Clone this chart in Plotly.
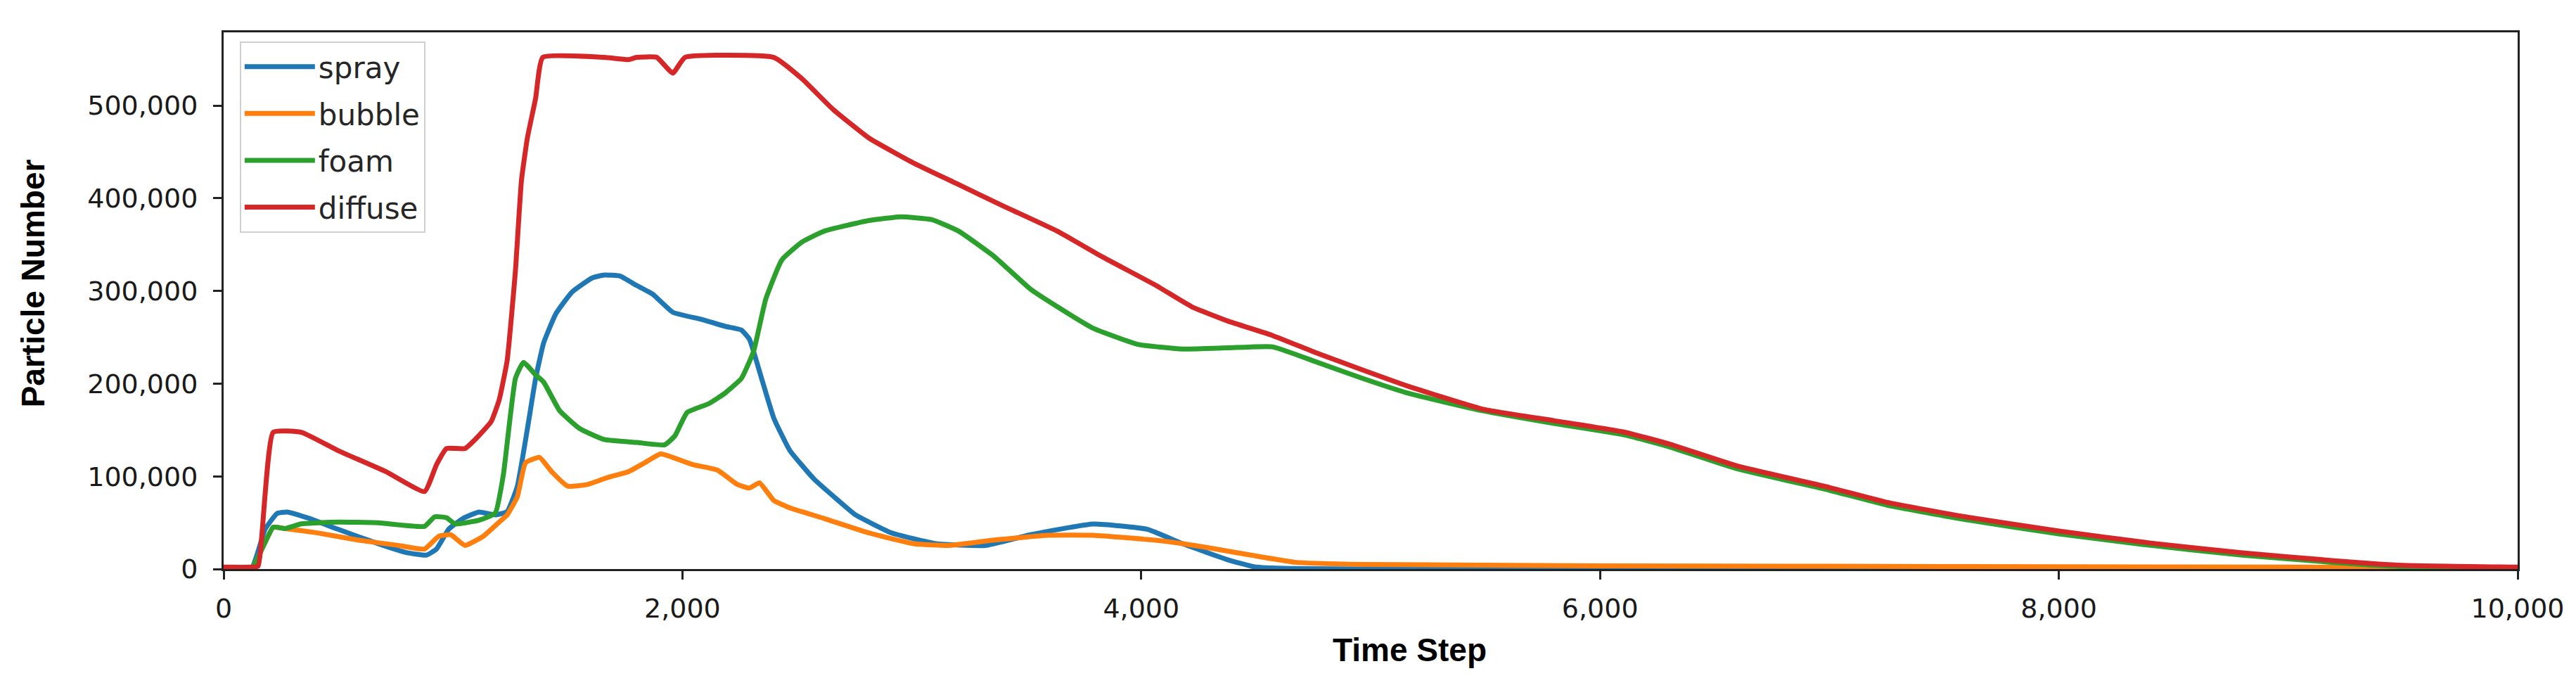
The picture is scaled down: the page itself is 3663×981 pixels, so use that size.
import plotly.graph_objects as go

# ---- data (values in particles; time in steps) ----
spray_t = [0, 120, 181, 233, 277, 374, 497, 673, 797, 884, 928, 981, 1043, 1113, 1184, 1236, 1280, 1324,
           1360, 1395, 1448, 1518, 1606, 1659, 1729, 1800, 1870, 1958, 2081, 2187, 2256, 2292, 2345, 2398,
           2468, 2574, 2679, 2754, 2911, 3106, 3320, 3517, 3791, 4025, 4181, 4377, 4494, 4650, 5000, 6000,
           8000, 10000]
spray_k = [0, 0, 43, 60, 61.5, 54.5, 43, 27.4, 17.7, 15, 21.6, 43, 54.5, 61.5, 58.4, 62, 89, 151,
           205.6, 244, 275.3, 298.6, 314, 317.2, 316, 306, 296.6, 277, 269.5, 261.8, 258, 248, 205.6, 163,
           128, 97, 74, 58.5, 39, 27.3, 25.5, 37, 48.6, 42.9, 27.3, 10, 2.3, 0.5, 0, 0,
           0, 0]

bubble_t = [0, 120, 216, 268, 409, 585, 761, 876, 937, 990, 1052, 1131, 1201, 1236, 1280, 1316, 1377,
            1430, 1500, 1588, 1676, 1764, 1835, 1905, 1958, 2046, 2152, 2239, 2292, 2336, 2398, 2468,
            2617, 2813, 3008, 3164, 3360, 3595, 3790, 4083, 4279, 4474, 4670, 4963, 6000, 7000, 8000,
            9000, 10000]
bubble_k = [0, 0, 45, 43.7, 39, 31.3, 25.5, 21.6, 35.2, 37, 25.5, 35.2, 50.6, 58.4, 77.8, 114.6, 120.4,
            105, 89.4, 91.3, 99, 105, 114.6, 124.3, 120.4, 112.6, 106.8, 91.3, 87.4, 93, 74, 66,
            54.6, 39, 27.3, 25.5, 31.3, 36.4, 36.4, 30.5, 23.5, 15.2, 7.3, 5, 3.5, 3, 2.5,
            2, 1.5]

foam_t = [0, 120, 216, 268, 339, 497, 673, 876, 920, 972, 1008, 1113, 1184, 1219, 1272, 1307, 1360,
          1395, 1465, 1553, 1659, 1800, 1923, 1967, 2020, 2116, 2187, 2257, 2310, 2363, 2433, 2521,
          2617, 2813, 2950, 3086, 3204, 3360, 3517, 3634, 3790, 3985, 4181, 4377, 4572, 4768, 4963,
          5159, 5487, 5800, 6100, 6300, 6600, 7000, 7250, 7600, 8000, 8400, 8800, 9200, 9500, 10000]
foam_k = [0, 0, 45, 43.7, 48.7, 50.6, 49.9, 46, 56.4, 55.3, 48.7, 52.6, 60.3, 101, 205.6, 223, 209.5,
          201.7, 170.7, 151.4, 139.7, 136.6, 134, 143.6, 168.8, 178.5, 190, 205.6, 234.7, 291, 333.4, 352.8,
          364.5, 376, 380, 377, 364.5, 337, 302, 283, 259.8, 242.4, 237.4, 238.6, 239.7, 223, 205.8,
          190, 170.8, 157, 145, 132, 108, 85, 69, 53, 38, 25.5, 15, 7, 2.5, 0.5]

diffuse_t = [0, 120, 150, 216, 339, 497, 708, 876, 928, 972, 1052, 1096, 1166, 1201, 1236, 1272, 1298,
             1324, 1360, 1391, 1659, 1764, 1800, 1888, 1958, 2011, 2398, 2521, 2656, 2813, 3008, 3204,
             3400, 3634, 3829, 4064, 4220, 4377, 4572, 4768, 4963, 5159, 5487, 5800, 6100, 6300, 6600,
             7000, 7250, 7600, 8000, 8400, 8800, 9200, 9500, 10000]
diffuse_k = [2, 2, 3, 147.5, 147.5, 128, 105, 83.6, 112.6, 130, 130, 139.7, 159, 182.4, 225, 322, 418.7,
             465, 507.8, 552, 552, 549.6, 552, 552, 535, 552, 552, 529, 496, 465, 438, 414.8,
             391.5, 364.5, 337, 306, 283, 267.6, 252, 232.7, 215, 197.6, 172.6, 160, 148, 135, 111,
             88, 72, 56, 41, 28, 17.5, 9, 4, 2]

series_names = ["spray", "bubble", "foam", "diffuse"]
series_colors = ["#1f77b4", "#ff7f0e", "#2ca02c", "#d62728"]
series_data = [(spray_t, spray_k), (bubble_t, bubble_k), (foam_t, foam_k), (diffuse_t, diffuse_k)]

x_ticks = [0, 2000, 4000, 6000, 8000, 10000]
y_ticks = [0, 100000, 200000, 300000, 400000, 500000]

fig = go.Figure()
for name, color, (t, k) in zip(series_names, series_colors, series_data):
    fig.add_trace(go.Scatter(
        x=t, y=[v * 1000 for v in k], mode="lines", name=name,
        legendgroup=name,
        line=dict(color=color, width=7, shape="spline", smoothing=0.4),
    ))

tick_font = dict(family="DejaVu Sans", size=38, color="#1a1a1a")
title_font = dict(family="Liberation Sans", size=46, color="#000000")

fig.update_layout(
    width=3663, height=981,
    margin=dict(l=310, r=91, t=38, b=180),
    paper_bgcolor="white", plot_bgcolor="white",
    showlegend=True,
    legend=dict(
        x=0.007, y=0.983, xanchor="left", yanchor="top",
        bgcolor="white", bordercolor="#d0d0d0", borderwidth=2,
        font=dict(family="DejaVu Sans", size=42, color="#262626"),
        tracegroupgap=9, itemwidth=100,
    ),
    annotations=[
        dict(text="<b>Time Step</b>", xref="paper", yref="paper",
             x=0.517, y=-0.151, xanchor="center", yanchor="middle",
             showarrow=False, font=title_font),
        dict(text="<b>Particle Number</b>", xref="paper", yref="paper",
             x=-0.083, y=0.532, xanchor="center", yanchor="middle",
             textangle=-90, showarrow=False, font=title_font),
    ],
)

fig.update_xaxes(
    range=[0, 10000], tickvals=x_ticks, tickformat=",d",
    showgrid=False, zeroline=False,
    showline=True, linecolor="#222222", linewidth=3, mirror=True,
    ticks="outside", ticklen=12, tickwidth=3, tickcolor="#222222",
    tickfont=tick_font, ticklabelstandoff=8,
)
fig.update_yaxes(
    range=[0, 579000], tickvals=y_ticks, tickformat=",d",
    showgrid=False, zeroline=False,
    showline=True, linecolor="#222222", linewidth=3, mirror=True,
    ticks="outside", ticklen=12, tickwidth=3, tickcolor="#222222",
    tickfont=tick_font, ticklabelstandoff=14,
)

fig.write_html("out.html")
